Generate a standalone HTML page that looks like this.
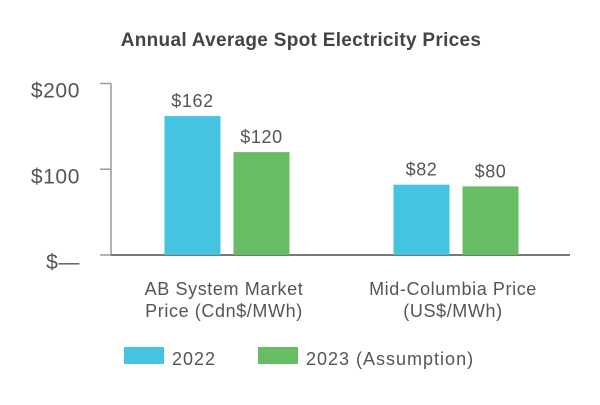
<!DOCTYPE html>
<html><head><meta charset="utf-8"><style>
body{margin:0;background:#fff;}
svg text{font-family:"Liberation Sans",sans-serif;}
</style></head><body>
<svg id="chart" width="600" height="400" xmlns="http://www.w3.org/2000/svg">
<text x="301" y="46" text-anchor="middle" font-size="19" font-weight="bold" letter-spacing="0.3" fill="#444">Annual Average Spot Electricity Prices</text>
<g id="axes"></g>
<g id="bars"></g>
<g>
<rect x="124" y="347" width="40" height="17" fill="#45c4e2"/>
<text x="172" y="365" font-size="18" letter-spacing="1" fill="#555">2022</text>
<rect x="258" y="347" width="40" height="17" fill="#66bd63"/>
<text x="306" y="365" font-size="18" letter-spacing="1" fill="#555">2023 (Assumption)</text>
</g>
</svg>
<script>
const categories=[["AB System Market","Price (Cdn$/MWh)"],["Mid-Columbia Price","(US$/MWh)"]];
const series2022=[162,82];
const series2023=[120,80];
const tickValues=[0,100,200];
const tickLabels=["$—","$100","$200"];
const NS="http://www.w3.org/2000/svg";
const y0=255,yTop=83.5,vmax=200;
function y(v){return y0-(v/vmax)*(y0-yTop);}
const groupCenters=[227,456];
function el(t,a,p){const e=document.createElementNS(NS,t);for(const k in a)e.setAttribute(k,a[k]);p.appendChild(e);return e;}
const axes=document.getElementById('axes'),bars=document.getElementById('bars');
const ax=el('line',{x1:111,y1:y(vmax),x2:111,y2:y0,stroke:'#999','stroke-width':1.5},axes);


const bl=el('line',{x1:111,y1:y0,x2:570,y2:y0,stroke:'#777','stroke-width':2},axes);


tickValues.forEach((v,i)=>{
 const t=el('line',{x1:100,y1:y(v),x2:111,y2:y(v),stroke:'#999','stroke-width':1.5},axes);
 
 
 const tx=el('text',{x:80,y:y(v)+14,'text-anchor':'end','font-size':21,'letter-spacing':0.6,fill:'#555'},axes);
 tx.textContent=tickLabels[i];
 
 
});
const bw=56,gap=13;
categories.forEach((c,i)=>{
 const cx=groupCenters[i];
 [[series2022,'#45c4e2',cx-gap/2-bw],[series2023,'#66bd63',cx+gap/2]].forEach((s,j)=>{
  const v=s[0][i];
  const r=el('rect',{x:s[2],y:y(v),width:bw,height:y0-y(v),fill:s[1]},bars);
  
  
  const lt=el('text',{x:s[2]+bw/2,y:y(v)-9,'text-anchor':'middle','font-size':18,'letter-spacing':0.6,fill:'#555'},bars);
  lt.textContent='$'+v;
  
  
 });
 c.forEach((line,k)=>{
  const t=el('text',{x:cx-3,y:295+k*22,'text-anchor':'middle','font-size':18,'letter-spacing':0.6,fill:'#555'},axes);
  t.textContent=line;
  
  
 });
});
</script>
</body></html>
